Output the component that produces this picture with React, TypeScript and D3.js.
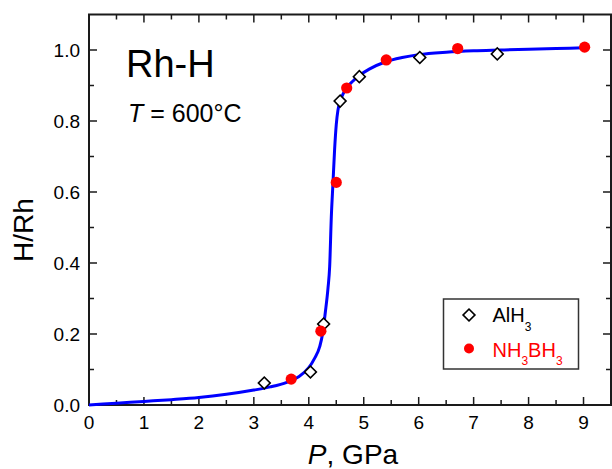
import { useEffect, useRef } from "react";
import * as d3 from "d3";

// fitted curve
const curveP = [0, 0.5, 1, 1.5, 2, 2.5, 3, 3.3, 3.6, 3.8, 4.0, 4.1, 4.2, 4.25, 4.3, 4.35, 4.38, 4.41, 4.44, 4.47, 4.5, 4.53, 4.57, 4.62, 4.69, 4.8, 4.92, 5.1, 5.4, 5.7, 6.0, 6.5, 7.0, 7.5, 8.0, 8.5, 9.0];
const curveH = [0, 0.005, 0.01, 0.015, 0.021, 0.03, 0.042, 0.051, 0.064, 0.078, 0.105, 0.13, 0.165, 0.2, 0.26, 0.33, 0.39, 0.53, 0.625, 0.72, 0.79, 0.83, 0.855, 0.875, 0.894, 0.912, 0.928, 0.946, 0.967, 0.979, 0.987, 0.994, 0.998, 1.0, 1.002, 1.004, 1.006];

// AlH3 source
const alhP = [3.19, 4.03, 4.27, 4.57, 4.92, 6.02, 7.43];
const alhH = [0.062, 0.093, 0.228, 0.856, 0.925, 0.979, 0.989];

// NH3BH3 source
const nhbP = [3.68, 4.22, 4.5, 4.69, 5.41, 6.71, 9.02];
const nhbH = [0.073, 0.208, 0.627, 0.893, 0.972, 1.004, 1.008];

const xMajor = [0, 1, 2, 3, 4, 5, 6, 7, 8, 9];
const xMinor = [0.5, 1.5, 2.5, 3.5, 4.5, 5.5, 6.5, 7.5, 8.5];
const yMajor = [0, 0.2, 0.4, 0.6, 0.8, 1.0];
const yMinor = [0.1, 0.3, 0.5, 0.7, 0.9];

const W = 612;
const H = 469;
const FONT = "Liberation Sans, Arial, sans-serif";

export default function App() {
  const ref = useRef<SVGSVGElement | null>(null);

  useEffect(() => {
    const svg = d3.select(ref.current);
    svg.selectAll("*").remove();

    const x = d3.scaleLinear().domain([0, 9.5]).range([89, 611]);
    const y = d3.scaleLinear().domain([0, 1.1]).range([405, 14.5]);
    const [x0, x1] = x.range();
    const [y0, y1] = y.range();
    const axisColor = "#1a1a1a";

    // ticks (all inward)
    const g = svg.append("g").attr("stroke", axisColor).attr("stroke-width", 1.5);
    const tick = (list: number[], len: number) => {
      list.forEach((v) => {
        g.append("line").attr("x1", x(v)).attr("x2", x(v)).attr("y1", y0).attr("y2", y0 - len);
        g.append("line").attr("x1", x(v)).attr("x2", x(v)).attr("y1", y1).attr("y2", y1 + len);
      });
    };
    const ytick = (list: number[], len: number) => {
      list.forEach((v) => {
        g.append("line").attr("y1", y(v)).attr("y2", y(v)).attr("x1", x0).attr("x2", x0 + len);
        g.append("line").attr("y1", y(v)).attr("y2", y(v)).attr("x1", x1).attr("x2", x1 - len);
      });
    };
    tick(xMajor, 8);
    tick(xMinor, 5);
    ytick(yMajor, 8);
    ytick(yMinor, 5);

    // frame
    svg.append("rect")
      .attr("x", x0).attr("y", y1)
      .attr("width", x1 - x0).attr("height", y0 - y1)
      .attr("fill", "none").attr("stroke", axisColor).attr("stroke-width", 2);

    // tick labels
    svg.append("g").selectAll("text").data(xMajor).enter().append("text")
      .attr("x", (d) => x(d)).attr("y", 429)
      .attr("text-anchor", "middle")
      .attr("font-family", FONT).attr("font-size", 19)
      .text((d) => d3.format("d")(d));

    svg.append("g").selectAll("text").data(yMajor).enter().append("text")
      .attr("x", 80).attr("y", (d) => y(d) + 7)
      .attr("text-anchor", "end")
      .attr("font-family", FONT).attr("font-size", 19)
      .text((d) => d3.format(".1f")(d));

    // axis titles
    const xl = svg.append("text")
      .attr("x", 353).attr("y", 464)
      .attr("text-anchor", "middle")
      .attr("font-family", FONT).attr("font-size", 28);
    xl.append("tspan").attr("font-style", "italic").text("P");
    xl.append("tspan").text(", GPa");

    svg.append("text")
      .attr("transform", "translate(33,230) rotate(-90)")
      .attr("text-anchor", "middle")
      .attr("font-family", FONT).attr("font-size", 28)
      .text("H/Rh");

    // curve
    const line = d3.line<number>()
      .x((d) => x(d))
      .y((_, i) => y(curveH[i]))
      .curve(d3.curveMonotoneX);
    svg.append("path")
      .attr("d", line(curveP))
      .attr("fill", "none")
      .attr("stroke", "#0000ff")
      .attr("stroke-width", 3);

    const diamond = d3.symbol().type(d3.symbolSquare).size(70);

    // AlH3 diamonds
    svg.append("g").selectAll("path").data(alhP).enter().append("path")
      .attr("d", diamond())
      .attr("transform", (d, i) => `translate(${x(d)},${y(alhH[i])}) rotate(45)`)
      .attr("fill", "white").attr("stroke", "black").attr("stroke-width", 1.6);

    // NH3BH3 dots
    svg.append("g").selectAll("circle").data(nhbP).enter().append("circle")
      .attr("cx", (d) => x(d)).attr("cy", (_, i) => y(nhbH[i]))
      .attr("r", 5.6).attr("fill", "#ff0000");

    // annotations
    svg.append("text")
      .attr("x", 126).attr("y", 77)
      .attr("font-family", FONT).attr("font-size", 38)
      .text("Rh-H");
    const t = svg.append("text")
      .attr("x", 128).attr("y", 122)
      .attr("font-family", FONT).attr("font-size", 25);
    t.append("tspan").attr("font-style", "italic").text("T");
    t.append("tspan").text(" = 600°C");

    // legend
    const lg = svg.append("g");
    lg.append("rect")
      .attr("x", 443.5).attr("y", 299)
      .attr("width", 135).attr("height", 70)
      .attr("fill", "white").attr("stroke", "#333").attr("stroke-width", 1.5);
    lg.append("path")
      .attr("d", diamond())
      .attr("transform", "translate(469,315) rotate(45)")
      .attr("fill", "white").attr("stroke", "black").attr("stroke-width", 1.6);
    const a = lg.append("text")
      .attr("x", 492.5).attr("y", 322)
      .attr("font-family", FONT).attr("font-size", 20);
    a.append("tspan").text("AlH");
    a.append("tspan").attr("font-size", 12).attr("dy", 8.5).text("3");

    lg.append("circle").attr("cx", 469).attr("cy", 348.5).attr("r", 5).attr("fill", "#ff0000");
    const b = lg.append("text")
      .attr("x", 492.5).attr("y", 356.5)
      .attr("fill", "#ff0000")
      .attr("font-family", FONT).attr("font-size", 20);
    b.append("tspan").text("NH");
    b.append("tspan").attr("font-size", 12).attr("dy", 8.5).text("3");
    b.append("tspan").attr("dy", -8.5).text("BH");
    b.append("tspan").attr("font-size", 12).attr("dy", 8.5).text("3");
  }, []);

  return (
    <svg
      ref={ref}
      width={W}
      height={H}
      style={{ position: "absolute", left: 0, top: 0, background: "white" }}
    />
  );
}
